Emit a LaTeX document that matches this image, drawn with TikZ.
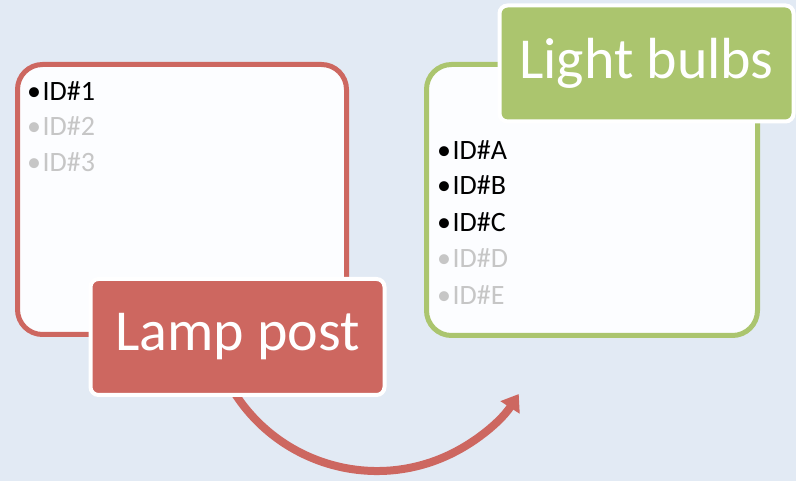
\documentclass[tikz,border=0pt]{standalone}
\usepackage{fontspec}
\setmainfont{Carlito}
\usetikzlibrary{arrows.meta}
\definecolor{bg}{HTML}{E2EAF4}
\definecolor{lampred}{HTML}{CD6760}
\definecolor{bulbgreen}{HTML}{ABC56E}
\definecolor{boxfill}{HTML}{FCFDFF}
\definecolor{dimtext}{HTML}{C6C6C6}
\newcommand{\bul}{•\kern1.5pt}
\tikzset{
  listbox/.style={draw, line width=5pt, fill=boxfill, rounded corners=25pt, inner sep=0pt},
  tagbox/.style={draw=white, line width=4pt, rounded corners=8pt, inner sep=0pt,
    minimum width=294pt, minimum height=116pt, text=white, font=\fontsize{58}{60}\selectfont},
  item/.style={anchor=base west, inner sep=0pt, font=\fontsize{28}{30}\selectfont},
  dim/.style={item, text=dimtext},
  flow/.style={draw=lampred, line width=8pt, -{Triangle[length=16pt,width=22pt]}}
}
\begin{document}
\begin{tikzpicture}[x=1pt,y=1pt]
\fill[bg] (0,0) rectangle (796,481);
\useasboundingbox (0,0) rectangle (796,481);
% left list box
\node[listbox, draw=lampred, minimum width=329pt, minimum height=270pt] (lbox) at (182,281.5) {};
\node[item] (i1) at (27,380) {\bul ID\#1};
\node[dim] (i2) at (27,345) {\bul ID\#2};
\node[dim] (i3) at (27,309) {\bul ID\#3};
% right list box
\node[listbox, draw=bulbgreen, minimum width=331pt, minimum height=271pt] (rbox) at (592,281) {};
\node[item] (ia) at (437,321) {\bul ID\#A};
\node[item] (ib) at (437,286) {\bul ID\#B};
\node[item] (ic) at (437,249) {\bul ID\#C};
\node[dim] (id) at (437,213) {\bul ID\#D};
\node[dim] (ie) at (437,176) {\bul ID\#E};
% arrow
\coordinate (as) at ({377+169*cos(206)},{179+169*sin(206)});
\draw[flow] (as) arc[start angle=206, end angle=327, radius=169] coordinate (ae);
% tags
\node[tagbox, fill=lampred] (lamp) at (237.5,144) {Lamp post};
\node[tagbox, fill=bulbgreen] (bulbs) at (646.5,417.5) {Light bulbs};
\end{tikzpicture}
\end{document}
